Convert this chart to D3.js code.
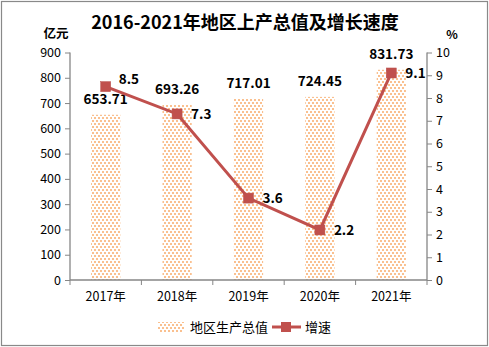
<!DOCTYPE html>
<html><head><meta charset="utf-8">
<script src="https://cdn.jsdelivr.net/npm/d3@7"></script>
<style>
html,body{margin:0;padding:0;background:#fff;}
svg{display:block;font-family:"Noto Sans CJK SC","Noto Sans",sans-serif;}
</style></head>
<body><svg id="c" width="489" height="347"></svg>
<script>
const categories = ["2017年","2018年","2019年","2020年","2021年"];
const gdpValues = [653.71, 693.26, 717.01, 724.45, 831.73];
const growthValues = [8.5, 7.3, 3.6, 2.2, 9.1];
const leftTicks = [0,100,200,300,400,500,600,700,800,900];
const rightTicks = [0,1,2,3,4,5,6,7,8,9,10];
const titleText = "2016-2021年地区上产总值及增长速度";
const seriesNames = ["地区生产总值","增速"];

const svg = d3.select("#c");
const W = 489, H = 347;
const m = {left:70, right:62, top:52.5, bottom:67};
const x0 = m.left, x1 = W - m.right, yTop = m.top, yBot = H - m.bottom;

// border
svg.append("rect").attr("x",1.5).attr("y",1.5).attr("width",W-3).attr("height",H-3)
  .attr("fill","#fff").attr("stroke","#898989").attr("stroke-width",1.2);

// pattern
const defs = svg.append("defs");
const pat = defs.append("pattern").attr("id","dots").attr("patternUnits","userSpaceOnUse")
  .attr("width",4).attr("height",6);
pat.append("rect").attr("x",0).attr("y",0).attr("width",2).attr("height",2).attr("fill","#FAC08F");
pat.append("rect").attr("x",2).attr("y",3).attr("width",2).attr("height",2).attr("fill","#FAC08F");

const x = d3.scaleBand().domain(categories).range([x0, x1]).paddingInner(0.59).paddingOuter(0.295);
const yL = d3.scaleLinear().domain([0,900]).range([yBot, yTop]);
const yR = d3.scaleLinear().domain([0,10]).range([yBot, yTop]);
const xc = d => x(d) + x.bandwidth()/2;

// title
svg.append("text").attr("x",245).attr("y",29).attr("text-anchor","middle")
  .attr("font-size",18).attr("font-weight","bold").attr("fill","#000").text(titleText);
svg.append("text").attr("x",56).attr("y",38).attr("text-anchor","middle")
  .attr("font-size",12.5).attr("font-weight","bold").text("亿元");
svg.append("text").attr("x",452).attr("y",39).attr("text-anchor","middle")
  .attr("font-size",12).attr("font-weight","bold").text("%");

// bars
svg.append("g").selectAll("rect").data(gdpValues).join("rect")
  .attr("x",(d,i)=>x(categories[i])).attr("width",x.bandwidth())
  .attr("y",d=>yL(d)).attr("height",d=>yBot-yL(d)).attr("fill","url(#dots)");

// axes
const axisColor = "#868686";
const gL = svg.append("g").attr("transform",`translate(${x0},0)`)
  .call(d3.axisLeft(yL).tickValues(leftTicks).tickSize(5).tickPadding(4).tickFormat(d3.format("d")));
const gR = svg.append("g").attr("transform",`translate(${x1},0)`)
  .call(d3.axisRight(yR).tickValues(rightTicks).tickSize(5).tickPadding(4).tickFormat(d3.format("d")));
const band = x.step();
const catTicks = d3.range(categories.length+1).map(i => x0 + i*(x1-x0)/categories.length);
const gB = svg.append("g").attr("transform",`translate(0,${yBot})`)
  .call(d3.axisBottom(x).tickSize(0).tickPadding(12));
gB.selectAll(".tk").data(catTicks).join("line").attr("class","tk")
  .attr("x1",d=>d).attr("x2",d=>d).attr("y1",0).attr("y2",5).attr("stroke",axisColor);
[gL,gR,gB].forEach(g=>{
  g.select(".domain").attr("stroke",axisColor).attr("stroke-width",1.3);
  g.selectAll(".tick line").attr("stroke",axisColor);
  g.selectAll("text").attr("font-family",'"Noto Sans CJK SC","Noto Sans",sans-serif')
    .attr("font-size",12.5).attr("fill","#000");
});
gL.select(".domain").attr("d",`M0,${yTop}V${yBot}`);
gR.select(".domain").attr("d",`M0,${yTop}V${yBot}`);
gB.select(".domain").attr("d",`M${x0},0H${x1}`);
gB.selectAll(".tick text").attr("font-size",12.5);

// bar labels
svg.append("g").selectAll("text").data(gdpValues).join("text")
  .attr("x",(d,i)=>xc(categories[i])).attr("y",d=>yL(d)-11)
  .attr("text-anchor","middle").attr("font-size",13.5).attr("font-weight","bold")
  .text(d=>d.toFixed(2));

// line
const lc = "#C0504D";
const line = d3.line().x((d,i)=>xc(categories[i])).y(d=>yR(d));
svg.append("path").datum(growthValues).attr("d",line).attr("fill","none")
  .attr("stroke",lc).attr("stroke-width",3);
svg.append("g").selectAll("rect").data(growthValues).join("rect")
  .attr("x",(d,i)=>xc(categories[i])-5).attr("y",d=>yR(d)-5)
  .attr("width",10).attr("height",10).attr("fill",lc).attr("stroke","#B9504C").attr("stroke-width",0.5);
svg.append("g").selectAll("text").data(growthValues).join("text")
  .attr("x",(d,i)=>xc(categories[i])+ (i===0?13:14)).attr("y",(d,i)=>yR(d)+ (i===0?-3:5))
  .attr("font-size",13.5).attr("font-weight","bold").text(d=>d.toFixed(1));

// legend
const ly = 327;
svg.append("rect").attr("x",158).attr("y",ly-5).attr("width",26).attr("height",10).attr("fill","url(#dots)");
svg.append("text").attr("x",190).attr("y",ly+4.5).attr("font-size",13).text(seriesNames[0]);
svg.append("line").attr("x1",272).attr("x2",301).attr("y1",ly).attr("y2",ly).attr("stroke",lc).attr("stroke-width",3);
svg.append("rect").attr("x",281).attr("y",ly-5).attr("width",10).attr("height",10).attr("fill",lc);
svg.append("text").attr("x",305).attr("y",ly+4.5).attr("font-size",13).text(seriesNames[1]);
</script></body></html>
